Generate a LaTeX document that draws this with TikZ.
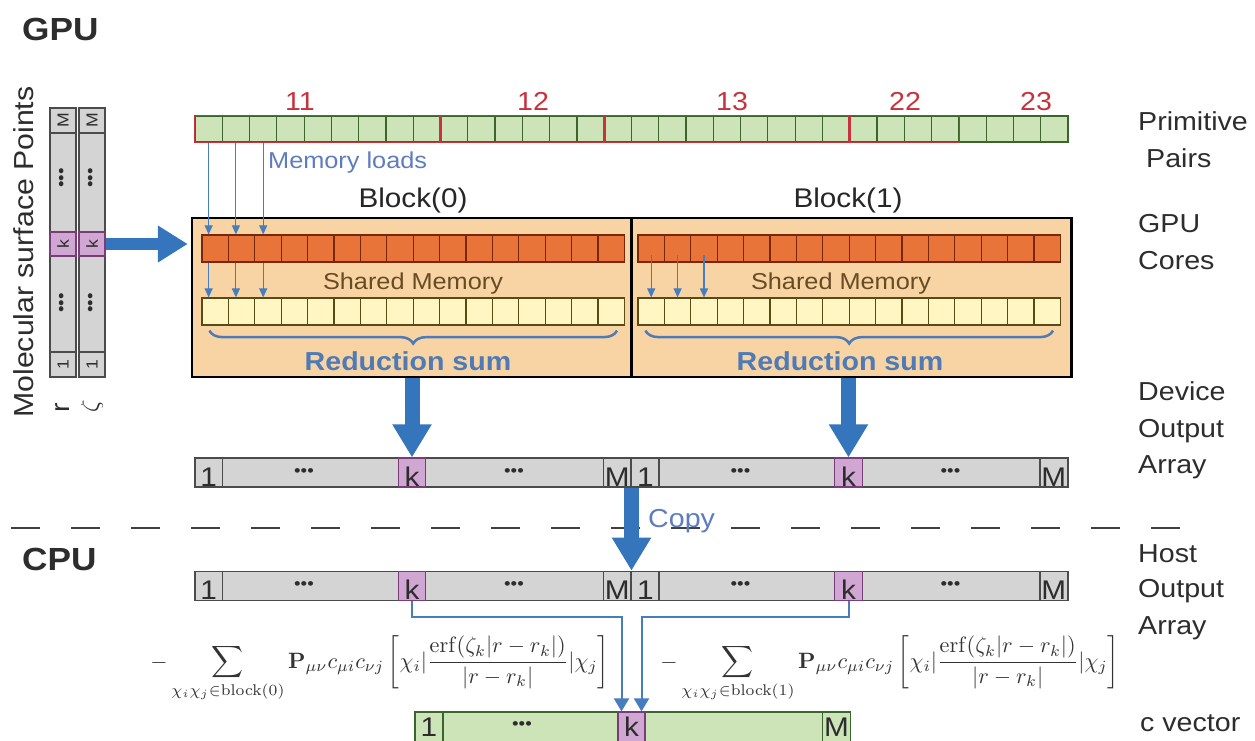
\documentclass[tikz,border=0pt]{standalone}
\usepackage[no-math]{fontspec}
\setmainfont{Liberation Sans}[FakeStretch=1.1]
\usetikzlibrary{arrows.meta,decorations.pathreplacing,calc}

\definecolor{ppgreen}{RGB}{205,228,184}
\definecolor{ppline}{RGB}{60,100,45}
\definecolor{grpred}{RGB}{200,50,60}
\definecolor{coreorg}{RGB}{232,116,58}
\definecolor{coreline}{RGB}{120,40,10}
\definecolor{shyel}{RGB}{255,246,196}
\definecolor{shline}{RGB}{90,75,20}
\definecolor{peach}{RGB}{248,212,164}
\definecolor{celgray}{RGB}{212,212,212}
\definecolor{celline}{RGB}{75,75,75}
\definecolor{kpurple}{RGB}{208,166,210}
\definecolor{kline}{RGB}{120,60,120}
\definecolor{bigblue}{RGB}{52,117,188}
\definecolor{thinblue}{RGB}{70,125,190}
\definecolor{txtblue}{RGB}{78,122,182}
\definecolor{lblue}{RGB}{95,125,190}
\definecolor{txtgray}{RGB}{45,45,45}
\definecolor{smbrown}{RGB}{105,75,35}

\newcommand\fsz[1]{\fontsize{#1}{#1}\selectfont}

\tikzset{
  ppcell/.style={draw=ppline, fill=ppgreen, line width=1.2pt, minimum width=27.28pt, minimum height=26pt, inner sep=0pt},
  grp/.style={draw=grpred, line width=1.6pt},
  corecell/.style={draw=coreline, fill=coreorg, line width=1.2pt, minimum width=26.4pt, minimum height=27pt, inner sep=0pt},
  shcell/.style={draw=shline, fill=shyel, line width=1.2pt, minimum width=26.4pt, minimum height=27pt, inner sep=0pt},
  blockbox/.style={draw=black, line width=2.5pt, fill=peach, inner sep=0pt},
  arrbar/.style={draw=celline, fill=celgray, line width=1.6pt, inner sep=0pt, minimum height=29pt},
  arrcell/.style={draw=celline, fill=celgray, line width=1.2pt, minimum width=27.5pt, minimum height=29pt, inner sep=0pt},
  kcell/.style={arrcell, draw=kline, fill=kpurple},
  cvbar/.style={draw=ppline, fill=ppgreen, line width=1.6pt, inner sep=0pt, minimum height=30pt},
  cvcell/.style={draw=ppline, fill=ppgreen, line width=1.2pt, minimum width=28pt, minimum height=30pt, inner sep=0pt},
  cl/.style={anchor=base, inner sep=0pt, font=\fsz{27}, text=txtgray},
  ccl/.style={rotate=90, inner sep=0pt, font=\fsz{16}, text=txtgray},
  dotsty/.style={inner sep=0pt, font=\fsz{17}, text=txtgray},
  lbl/.style={anchor=base west, inner sep=0pt, font=\fsz{26}, text=txtgray},
  hdr/.style={anchor=base west, inner sep=0pt, font=\fsz{32}\bfseries, text=txtgray},
  numlbl/.style={anchor=base, inner sep=0pt, font=\fsz{26}, text=grpred},
  blk/.style={anchor=base, inner sep=0pt, font=\fsz{27}, text=black!85},
  shtxt/.style={anchor=base, inner sep=0pt, font=\fsz{23}, text=smbrown},
  redtxt/.style={anchor=base, inner sep=0pt, font=\fsz{26}\bfseries, text=txtblue},
  thinarr/.style={draw=thinblue, line width=1.1pt, -{Triangle[width=8pt,length=9pt]}},
  linkarr/.style={draw=thinblue, line width=2pt, -{Triangle[width=15pt,length=13pt]}},
  bigarr/.style={draw=bigblue, line width=15pt, -{Triangle[width=37pt,length=33pt]}},
  leftarr/.style={draw=bigblue, line width=12pt, -{Triangle[width=35pt,length=30pt]}},
  bracestyle/.style={draw=txtblue, line width=2.5pt, decorate, decoration={brace, mirror, amplitude=13pt, aspect=0.5}},
  sepline/.style={draw=black!75, line width=2pt, dash pattern=on 29pt off 31pt},
  formula/.style={anchor=base west, inner sep=0pt, text=black!80, scale=2.22, transform shape},
}

\newcommand\blkformula[1]{$\displaystyle -\sum_{\chi_i\chi_j\in\mathrm{block}(#1)}\mathbf{P}_{\mu\nu}c_{\mu i}c_{\nu j}\left[\chi_i|\frac{\mathrm{erf}(\zeta_k|r-r_k|)}{|r-r_k|}|\chi_j\right]$}

\newcommand\mkarr[2]{%
  \node[arrbar, minimum width=873pt] (#1) at (631.5,#2) {};
  \foreach \h/\xo in {0/195,1/631.5}{%
    \node[arrcell] (#1one\h) at (\xo+13.75,#2) {};
    \node[kcell] (#1k\h) at (\xo+217,#2) {};
    \node[arrcell] (#1M\h) at (\xo+422.25,#2) {};
    \node[cl] (#1one\h t) at ([yshift=1.5pt]#1one\h.south) {1};
    \node[cl] (#1k\h t) at ([yshift=1.5pt]#1k\h.south) {k};
    \node[cl] (#1M\h t) at ([yshift=1.5pt]#1M\h.south) {M};
    \node[dotsty] (#1da\h) at (\xo+109,#2) {•••};
    \node[dotsty] (#1db\h) at (\xo+319,#2) {•••};
  }%
}

\newcommand\mkcol[2]{%
  \node[arrbar, minimum width=26pt, minimum height=269pt] (#1) at (#2,242.5) {};
  \node[arrcell, minimum width=26pt, minimum height=25pt] (#1M) at (#2,120.5) {};
  \node[kcell, minimum width=26pt, minimum height=24pt] (#1k) at (#2,244) {};
  \node[arrcell, minimum width=26pt, minimum height=25pt] (#1one) at (#2,364.5) {};
  \node[ccl] (#1Mt) at (#1M) {M};
  \node[ccl] (#1kt) at (#1k) {k};
  \node[ccl] (#1onet) at (#1one) {1};
  \node[dotsty, rotate=90] (#1d1) at (#2,178) {•••};
  \node[dotsty, rotate=90] (#1d2) at (#2,303) {•••};
}

\begin{document}
\begin{tikzpicture}[x=1pt,y=-1pt]
\useasboundingbox (0,0) rectangle (1255,740);
\clip (0,0) rectangle (1255,740);
\fill[white] (0,0) rectangle (1255,740);

% headings
\node[hdr] (gpu) at (22,40) {GPU};
\node[hdr] (cpu) at (22,570) {CPU};

% right-hand labels
\node[lbl] (lprim) at (1138,130) {Primitive};
\node[lbl] (lpairs) at (1146,167) {Pairs};
\node[lbl] (lgpu) at (1138,232) {GPU};
\node[lbl] (lcores) at (1138,269) {Cores};
\node[lbl] (ldev) at (1138,400) {Device};
\node[lbl] (ldout) at (1138,437) {Output};
\node[lbl] (ldarr) at (1138,473) {Array};
\node[lbl] (lhost) at (1138,562) {Host};
\node[lbl] (lhout) at (1138,597) {Output};
\node[lbl] (lharr) at (1138,634) {Array};
\node[lbl] (lcvec) at (1140,731) {c vector};

% separator
\draw[sepline] (11,528) -- (1182,528);

% primitive pairs
\foreach \i in {0,...,31} \node[ppcell] (p\i) at (208.64+\i*27.28,129) {};
\draw[grp] (p0.north west) rectangle (p8.south east);
\draw[grp] (p9.north west) rectangle (p14.south east);
\draw[grp] (p15.north west) rectangle (p23.south east);
\draw[grp] (p24.north west) rectangle (p27.south east);
\node[numlbl] (n11) at (300,110) {11};
\node[numlbl] (n12) at (533,110) {12};
\node[numlbl] (n13) at (732,110) {13};
\node[numlbl] (n22) at (905,110) {22};
\node[numlbl] (n23) at (1036,110) {23};

\node[anchor=base west, inner sep=0pt, font=\fsz{23}, text=lblue] (ml) at (268,168) {Memory loads};

% blocks
\node[blockbox, minimum width=439pt, minimum height=159pt] (b0) at (411.5,297.5) {};
\node[blockbox, minimum width=440pt, minimum height=159pt] (b1) at (851.5,297.5) {};
\node[blk] (b0t) at (413,207) {Block(0)};
\node[blk] (b1t) at (848,207) {Block(1)};

\foreach \i in {0,...,15} {
  \node[corecell] (c0-\i) at (215.2+\i*26.4,248.5) {};
  \node[shcell] (s0-\i) at (215.2+\i*26.4,311.5) {};
  \node[corecell] (c1-\i) at (651.2+\i*26.4,248.5) {};
  \node[shcell] (s1-\i) at (651.2+\i*26.4,311.5) {};
}
\node[shtxt] (sm0) at (413,289.5) {Shared Memory};
\node[shtxt] (sm1) at (841,289.5) {Shared Memory};

\draw[bracestyle] ([xshift=8pt,yshift=-5pt]s0-0.south west) -- ([xshift=-8pt,yshift=-5pt]s0-15.south east);
\draw[bracestyle] ([xshift=8pt,yshift=-5pt]s1-0.south west) -- ([xshift=-8pt,yshift=-5pt]s1-15.south east);
\node[redtxt] (rs0) at (408,370.5) {Reduction sum};
\node[redtxt] (rs1) at (840,370.5) {Reduction sum};

% memory loads arrows
\foreach \i in {0,1,2} {
  \draw[thinarr] (p\i.south) -- (p\i.south |- c0-0.north);
  \draw[thinarr] (p\i.south |- c0-0.south) -- (p\i.south |- s0-0.north);
  \draw[thinarr] ([yshift=8pt]c1-\i.south) -- (s1-\i.north);
}

% molecular surface points
\mkcol{colr}{63}
\mkcol{colz}{92}
\node[lbl, anchor=base, rotate=90, font=\fsz{27.5}] (mol) at (33,252) {Molecular surface Points};
\node[rotate=90, inner sep=0pt, font=\fsz{26}, text=txtgray] (rlab) at (63,408) {r};
\node[rotate=90, inner sep=0pt, font=\fsz{26}, text=txtgray] (zlab) at (92,406) {$\zeta$};

% arrays
\mkarr{dev}{472.5}
\mkarr{host}{586}

% c vector
\node[cvbar, minimum width=435pt] (cv) at (632.5,727) {};
\node[cvcell] (cone) at (429,727) {};
\node[kcell, minimum width=27pt, minimum height=30pt] (ck) at (631.5,727) {};
\node[cvcell] (cM) at (836.5,727) {};
\node[cl] (conet) at (429,736.5) {1};
\node[cl] (ckt) at (631.5,736.5) {k};
\node[cl] (cMt) at (836.5,736.5) {M};
\node[dotsty] (cdots) at (522,726) {•••};

% formulas
\node[formula] (f0) at (150,668) {\blkformula{0}};
\node[formula] (f1) at (660,668) {\blkformula{1}};

% big arrows
\draw[leftarr, shorten >=3pt] (colzk.east) -- (colzk.east -| b0.west);
\draw[bigarr] (devk0.north |- b0.south) -- (devk0.north);
\draw[bigarr] (devk1.north |- b1.south) -- (devk1.north);
\draw[bigarr] (dev.south) -- (host.north);
\node[anchor=base west, inner sep=0pt, font=\fsz{26}, text=lblue] (copy) at (648,527) {Copy};

% links to c vector
\draw[linkarr] (hostk0.south) -- ++(0,16) -| ([xshift=-10pt]ck.north);
\draw[linkarr] (hostk1.south) -- ++(0,16) -| ([xshift=10pt]ck.north);
\end{tikzpicture}
\end{document}
